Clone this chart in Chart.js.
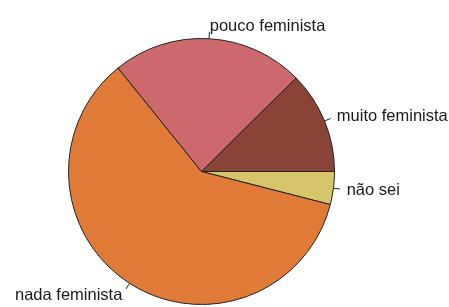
<!DOCTYPE html>
<html>
<head>
<meta charset="utf-8">
<script src="https://cdn.jsdelivr.net/npm/chart.js@4"></script>
<style>
  html, body { margin: 0; padding: 0; background: #fff; }
  #wrap { width: 449px; height: 307px; }
</style>
</head>
<body>
<div id="wrap"><canvas id="mycanvas" width="449" height="307"></canvas></div>
<script>
// order as in the source (drawn counter-clockwise from 3 o'clock)
var categories = ["muito feminista", "pouco feminista", "nada feminista", "n\u00e3o sei"];
var values = [12.4, 23.4, 60.2, 4.0];
var colors = ["#8a4337", "#cd686c", "#e07b37", "#d7c56c"];

// Chart.js goes clockwise, so reverse the order
var labels = categories.slice().reverse();
var data = values.slice().reverse();
var bg = colors.slice().reverse();

var sliceLabels = {
	id: "sliceLabels",
	afterDatasetsDraw: function(chart) {
		var ctx = chart.ctx;
		var arcs = chart.getDatasetMeta(0).data;
		ctx.save();
		ctx.font = "16.5px 'Liberation Sans', Arial, sans-serif";
		ctx.fillStyle = "#1a1a1a";
		ctx.strokeStyle = "#222";
		ctx.lineWidth = 1;
		ctx.textBaseline = "middle";
		for (var i = 0; i < arcs.length; i++) {
			var a = arcs[i];
			var mid = (a.startAngle + a.endAngle) / 2;
			var c = Math.cos(mid), s = Math.sin(mid);
			var r = a.outerRadius;
			ctx.beginPath();
			ctx.moveTo(a.x + r * c, a.y + r * s);
			ctx.lineTo(a.x + 1.05 * r * c, a.y + 1.05 * r * s);
			ctx.stroke();
			ctx.textAlign = c > 0 ? "left" : "right";
			ctx.fillText(chart.data.labels[i], a.x + 1.1 * r * c, a.y + 1.1 * r * s + 1);
		}
		ctx.restore();
	}
};

var LineGraph = new Chart(document.getElementById("mycanvas"), {
	type: "pie",
	data: {
		labels: labels,
		datasets: [{
			data: data,
			backgroundColor: bg,
			borderColor: "#222",
			borderWidth: 1
		}]
	},
	options: {
		responsive: false,
		animation: false,
		rotation: 90,
		layout: { padding: { left: 68, right: 114, top: 38, bottom: 2 } },
		plugins: {
			legend: { display: false },
			tooltip: { enabled: false }
		}
	},
	plugins: [sliceLabels]
});
</script>
</body>
</html>
